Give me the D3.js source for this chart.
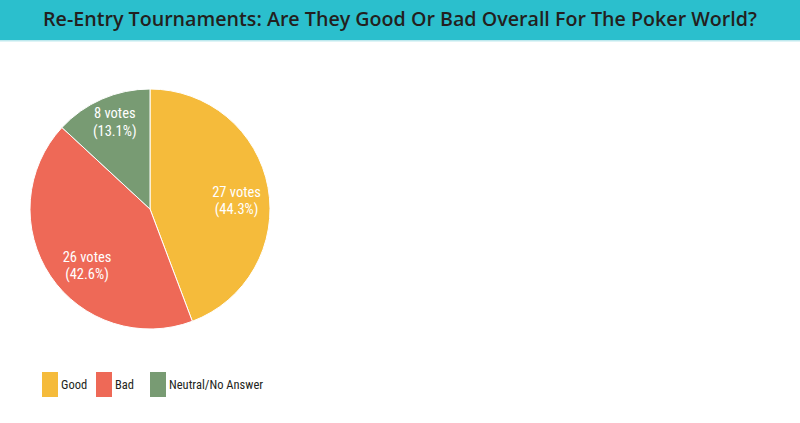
<!DOCTYPE html>
<html><head><meta charset="utf-8">
<script src="https://cdn.jsdelivr.net/npm/d3@7"></script>
<style>body{margin:0;background:#fff}svg{display:block}</style>
</head><body>
<svg id="c" width="800" height="423"></svg>
<script>
const title = "Re-Entry Tournaments: Are They Good Or Bad Overall For The Poker World?";
const categories = ["Good", "Bad", "Neutral/No Answer"];
const votes = [27, 26, 8];
const percents = ["44.3%", "42.6%", "13.1%"];
const colors = ["#f5bb3b", "#ee6957", "#789b73"];

const svg = d3.select("#c");
const narrow = "'Liberation Sans Narrow','Arial Narrow','Roboto Condensed',sans-serif";

svg.append("rect").attr("x",0).attr("y",0).attr("width",800).attr("height",40).attr("fill","#2bbfcd");
svg.append("rect").attr("x",0).attr("y",40).attr("width",800).attr("height",1.5).attr("fill","#bfe9ee");
const t = svg.append("text").attr("x",43).attr("y",26)
  .attr("font-family","'Open Sans',sans-serif").attr("font-weight",600)
  .attr("font-size",19).attr("fill","#231f20").text(title);
t.attr("textLength",714).attr("lengthAdjust","spacingAndGlyphs");

const cx = 150, cy = 209, R = 120;
const pie = d3.pie().sort(null).value(d => d);
const arcs = pie(votes);
const arc = d3.arc().innerRadius(0).outerRadius(R);
const labelArc = d3.arc().innerRadius(88).outerRadius(88);
// layout nudges for label placement (pixels)
const nudge = {"Good": [0, 6], "Bad": [10, 6], "Neutral/No Answer": [0, -8]};
const g = svg.append("g").attr("transform",`translate(${cx},${cy})`);
g.selectAll("path").data(arcs).join("path")
  .attr("d",arc).attr("fill",(d,i)=>colors[i]).attr("stroke","#fff").attr("stroke-width",1);
const lab = g.selectAll("text.l").data(arcs).join("text").attr("class","l")
  .attr("transform",(d,i)=>{const c = labelArc.centroid(d); const n = nudge[categories[i]]; return `translate(${c[0]+n[0]},${c[1]+n[1]})`;})
  .attr("text-anchor","middle").attr("font-family",narrow).attr("font-size",14.5).attr("fill","#fff");
lab.append("tspan").attr("x",0).attr("dy","-0.15em").text((d,i)=>`${votes[i]} votes`);
lab.append("tspan").attr("x",0).attr("dy","1.2em").text((d,i)=>`(${percents[i]})`);

const legX = [42, 96, 150];
const lg = svg.append("g");
categories.forEach((c,i)=>{
  lg.append("rect").attr("x",legX[i]).attr("y",372).attr("width",16).attr("height",25).attr("fill",colors[i]);
  lg.append("text").attr("x",legX[i]+19).attr("y",389).attr("font-family",narrow)
    .attr("font-size",12.5).attr("fill","#231f20").text(c);
});
</script>
</body></html>
